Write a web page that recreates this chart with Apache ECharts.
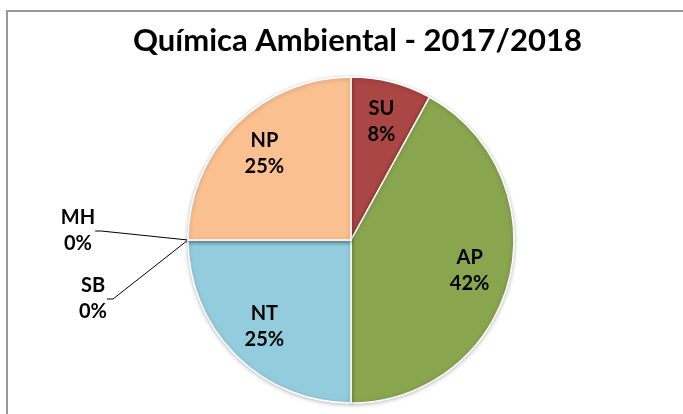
<!DOCTYPE html>
<html>
<head>
<meta charset="utf-8">
<script src="https://cdn.jsdelivr.net/npm/echarts@6/dist/echarts.min.js"></script>
<style>
  html, body { margin: 0; padding: 0; background: #fff; }
  #frame {
    position: absolute; left: 6px; top: 10px; width: 700px; height: 420px;
    border-top: 2px solid #9a9a9a; border-left: 2px solid #9a9a9a;
    box-sizing: border-box;
  }
  #pie { position: absolute; left: 0; top: 0; width: 683px; height: 414px; }
</style>
</head>
<body>
<div id="frame"></div>
<div id="pie"></div>
<script>
// datos del gráfico
const categories = ['SU', 'AP', 'NT', 'SB', 'MH', 'NP']
const percents = [8, 42, 25, 0, 0, 25]
const colors = ['#AA4643', '#89A54E', '#93CDDD', '#4F81BD', '#8064A2', '#FAC090']
const chartTitle = 'Química Ambiental - 2017/2018'

const font = 'Lato, "Open Sans", sans-serif'

// sitio de las etiquetas de los valores cero
const outsideLabelPos = {
  MH: [78, 231],
  SB: [93, 299]
}

const pieData = categories.map((name, i) => ({
  name: name,
  value: percents[i],
  itemStyle: { color: colors[i] }
}))

const chart = echarts.init(document.getElementById('pie'))
chart.setOption({
  animation: false,
  title: {
    text: chartTitle,
    left: 128,
    top: 20,
    textStyle: { fontFamily: font, fontSize: 31, fontWeight: 'bold', color: '#000' }
  },
  series: [
    {
      type: 'pie',
      center: [351, 240],
      radius: 163,
      startAngle: 90,
      clockwise: true,
      minShowLabelAngle: 0,
      itemStyle: {
        borderColor: '#fff',
        borderWidth: 1.5,
        shadowColor: 'rgba(0,0,0,0.25)',
        shadowBlur: 4,
        shadowOffsetY: 1
      },
      label: {
        show: true,
        position: 'outside',
        formatter: (p) => p.name + '\n' + p.value + '%',
        fontFamily: font,
        fontSize: 20,
        fontWeight: 'bold',
        color: '#000',
        lineHeight: 26,
        align: 'center'
      },
      labelLine: {
        show: true,
        length: 40,
        length2: 6,
        lineStyle: { color: '#000', width: 1 }
      },
      labelLayout: (params) => {
        const pos = outsideLabelPos[categories[params.dataIndex]]
        if (!pos) return {}
        return { x: pos[0], y: pos[1], align: 'center', verticalAlign: 'middle' }
      },
      data: pieData.map((d) => ({
        ...d,
        label: { show: d.value === 0 },
        labelLine: { show: d.value === 0 }
      }))
    },
    {
      // anillo invisible solo para las etiquetas interiores
      type: 'pie',
      center: [351, 240],
      radius: [76, 163],
      startAngle: 90,
      clockwise: true,
      silent: true,
      itemStyle: { color: 'transparent' },
      label: {
        show: true,
        position: 'inside',
        formatter: (p) => p.name + '\n' + p.value + '%',
        fontFamily: font,
        fontSize: 20,
        fontWeight: 'bold',
        color: '#000',
        lineHeight: 26
      },
      labelLine: { show: false },
      data: pieData.map((d) => ({
        name: d.name,
        value: d.value,
        label: { show: d.value !== 0 }
      }))
    }
  ]
})
</script>
</body>
</html>
